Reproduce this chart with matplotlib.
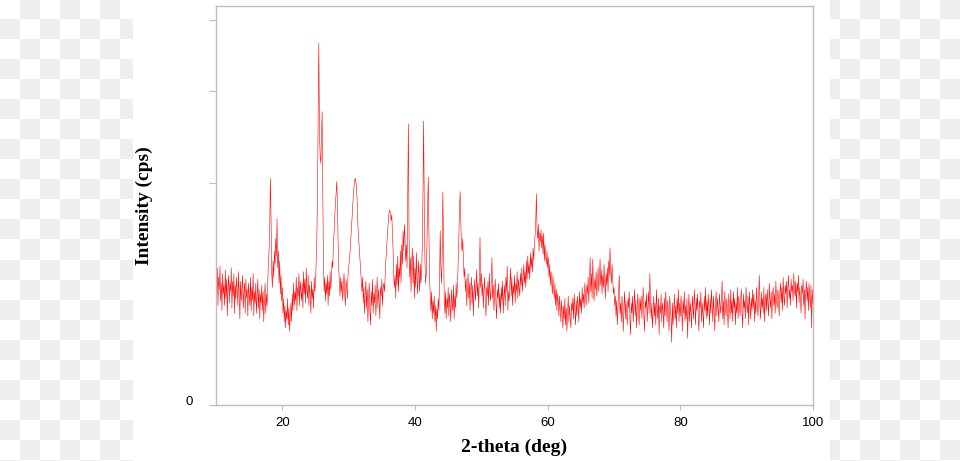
import numpy as np
import matplotlib
matplotlib.use("Agg")
import matplotlib.pyplot as plt
import matplotlib.ticker as mticker
from matplotlib.colors import ListedColormap
from matplotlib.patches import Rectangle
from matplotlib.transforms import ScaledTranslation

# --- data: XRD scan, 2-theta from 10 to 100 deg in 0.1 deg steps ---
# intensity in cps; one line = one degree
START, STEP = 10.0, 0.1
intensity = [
    310, 240, 380, 200, 330, 270, 390, 220, 300, 180,   # 10
    350, 250, 290, 200, 370, 230, 320, 160, 280, 340,   # 11
    210, 300, 260, 380, 190, 310, 240, 350, 170, 290,   # 12
    230, 330, 270, 200, 360, 250, 150, 310, 220, 280,   # 13
    340, 190, 260, 300, 170, 320, 230, 270, 160, 300,   # 14
    250, 200, 330, 180, 280, 220, 350, 160, 260, 210,   # 15
    300, 170, 240, 320, 190, 270, 150, 250, 210, 290,   # 16
    180, 260, 140, 230, 300, 170, 250, 200, 310, 420,   # 17
    480, 650, 1040, 700, 350, 280, 420, 330, 480, 400,  # 18
    560, 450, 700, 380, 480, 300, 420, 250, 340, 220,   # 19
    280, 170, 230, 140, 200, 120, 180, 150, 230, 130,   # 20
    190, 110, 170, 210, 140, 250, 180, 300, 200, 260,   # 21
    220, 330, 180, 280, 240, 350, 200, 310, 260, 220,   # 22
    300, 190, 360, 250, 320, 210, 380, 270, 230, 340,   # 23
    200, 290, 250, 170, 310, 230, 270, 190, 330, 260,   # 24
    300, 420, 560, 900, 1700, 2650, 1500, 1250, 1180, 1450,  # 25
    1740, 900, 420, 260, 330, 220, 300, 250, 340, 200,  # 26
    310, 240, 360, 270, 330, 420, 380, 520, 600, 720,   # 27
    820, 900, 1010, 850, 560, 380, 300, 240, 330, 260,  # 28
    310, 220, 290, 350, 250, 200, 320, 280, 230, 340,   # 29
    380, 420, 470, 540, 620, 700, 800, 880, 960, 1020,  # 30
    1040, 1000, 930, 820, 650, 560, 500, 430, 360, 300,  # 31
    260, 330, 210, 280, 170, 250, 310, 190, 270, 140,   # 32
    230, 300, 180, 130, 260, 200, 320, 170, 250, 210,   # 33
    290, 160, 240, 330, 190, 270, 220, 150, 280, 240,   # 34
    320, 200, 280, 300, 260, 340, 420, 480, 560, 620,   # 35
    720, 750, 770, 740, 690, 730, 600, 480, 330, 280,   # 36
    340, 230, 400, 290, 450, 260, 380, 330, 480, 300,   # 37
    520, 400, 610, 480, 660, 560, 420, 520, 380, 900,   # 38
    1600, 600, 330, 440, 260, 400, 500, 300, 450, 230,  # 39
    380, 280, 470, 320, 250, 420, 350, 260, 400, 300,   # 40
    360, 520, 900, 1630, 800, 420, 300, 350, 520, 800,  # 41
    1050, 600, 330, 240, 180, 260, 150, 220, 170, 240,  # 42
    140, 200, 110, 190, 150, 230, 180, 300, 616, 380,   # 43
    300, 450, 920, 500, 240, 170, 260, 150, 230, 190,   # 44
    280, 160, 250, 200, 140, 270, 210, 180, 290, 150,   # 45
    240, 190, 300, 230, 280, 400, 550, 750, 920, 700,   # 46
    520, 480, 560, 420, 330, 380, 260, 320, 200, 290,   # 47
    350, 230, 300, 180, 270, 330, 210, 290, 160, 250,   # 48
    320, 220, 280, 370, 240, 300, 190, 330, 570, 280,   # 49
    350, 240, 300, 190, 270, 330, 220, 160, 280, 240,   # 50
    310, 200, 350, 260, 220, 300, 440, 230, 290, 180,   # 51
    260, 320, 210, 150, 270, 230, 300, 190, 250, 170,   # 52
    280, 220, 310, 170, 240, 290, 200, 330, 260, 390,   # 53
    180, 260, 220, 300, 380, 240, 330, 200, 290, 250,   # 54
    340, 210, 300, 260, 360, 230, 320, 280, 240, 350,   # 55
    290, 380, 260, 330, 400, 300, 360, 280, 420, 320,   # 56
    450, 350, 400, 320, 470, 380, 440, 360, 500, 420,   # 57
    520, 580, 680, 900, 620, 560, 660, 480, 600, 540,   # 58
    620, 500, 580, 460, 600, 420, 520, 450, 400, 480,   # 59
    380, 440, 330, 400, 290, 360, 310, 250, 340, 270,   # 60
    230, 300, 200, 270, 180, 250, 210, 160, 240, 190,   # 61
    140, 220, 170, 120, 200, 150, 230, 130, 190, 110,   # 62
    170, 240, 140, 200, 160, 120, 210, 180, 230, 150,   # 63
    250, 180, 130, 220, 160, 240, 200, 140, 260, 190,   # 64
    230, 170, 280, 210, 250, 190, 300, 240, 200, 290,   # 65
    250, 330, 210, 300, 440, 260, 350, 230, 430, 280,   # 66
    220, 320, 270, 360, 240, 300, 380, 260, 330, 430,   # 67
    290, 370, 250, 340, 280, 400, 310, 230, 350, 290,   # 68
    380, 260, 420, 340, 500, 360, 300, 400, 330, 250,   # 69
    280, 200, 240, 160, 220, 130, 190, 250, 340, 170,   # 70
    210, 140, 240, 180, 110, 200, 260, 150, 220, 170,   # 71
    130, 230, 190, 260, 150, 100, 210, 170, 240, 140,   # 72
    200, 270, 160, 220, 120, 190, 250, 170, 130, 230,   # 73
    180, 240, 150, 210, 280, 160, 110, 220, 190, 250,   # 74
    140, 200, 260, 170, 350, 230, 150, 210, 120, 180,   # 75
    240, 160, 210, 130, 270, 190, 150, 230, 100, 200,   # 76
    170, 250, 140, 210, 180, 120, 230, 160, 260, 190,   # 77
    140, 220, 170, 110, 240, 190, 150, 80, 210, 130,    # 78
    180, 250, 150, 200, 120, 230, 170, 270, 140, 210,   # 79
    160, 240, 190, 110, 220, 170, 260, 140, 200, 150,   # 80
    230, 90, 180, 250, 140, 210, 170, 120, 240, 190,    # 81
    150, 270, 200, 130, 230, 180, 250, 160, 110, 220,   # 82
    190, 260, 140, 210, 170, 120, 240, 180, 280, 150,   # 83
    220, 160, 250, 190, 130, 230, 170, 270, 200, 140,   # 84
    240, 180, 110, 210, 260, 160, 230, 190, 140, 250,   # 85
    200, 170, 240, 310, 150, 220, 130, 260, 190, 160,   # 86
    230, 180, 120, 250, 200, 150, 270, 170, 220, 140,   # 87
    260, 190, 230, 130, 210, 170, 280, 150, 240, 200,   # 88
    160, 230, 270, 180, 120, 250, 190, 220, 150, 280,   # 89
    210, 170, 240, 130, 260, 200, 150, 230, 180, 270,   # 90
    190, 250, 140, 220, 170, 280, 210, 160, 240, 340,   # 91
    200, 150, 260, 190, 230, 170, 280, 140, 220, 250,   # 92
    180, 270, 210, 160, 300, 230, 190, 260, 150, 240,   # 93
    280, 200, 250, 170, 310, 220, 190, 270, 230, 160,   # 94
    260, 300, 210, 280, 180, 330, 240, 200, 290, 250,   # 95
    310, 190, 280, 340, 230, 270, 200, 320, 260, 290,   # 96
    220, 350, 270, 240, 310, 190, 300, 260, 340, 210,   # 97
    280, 230, 170, 290, 250, 320, 200, 270, 150, 260,   # 98
    310, 220, 280, 180, 300, 240, 190, 290, 120, 270,   # 99
    210,                                                 # 100
]
two_theta = START + STEP * np.arange(len(intensity))

x_ticks = [20, 40, 60, 80, 100]
y_ticks = [0, 1000, 2000, 3000]
y_tick_labels = ["0", "", "", ""]

W, H = 960, 461
fig = plt.figure(figsize=(W / 100, H / 100), dpi=100)

# checkered "transparent" backdrop with white card in the middle
bg = fig.add_axes([0, 0, 1, 1], zorder=-10)
cols, rows = W // 20 + 1, H // 20 + 1
checker = (np.add.outer(np.arange(rows), np.arange(cols)) % 2).astype(float)
bg.imshow(checker, cmap=ListedColormap(["#ffffff", "#eeeeee"]),
          extent=(0, cols * 20, rows * 20, 0), interpolation="nearest", aspect="auto")
bg.add_patch(Rectangle((133, 0), 697, H, facecolor="white", edgecolor="none"))
bg.set_xlim(0, W)
bg.set_ylim(H, 0)
bg.axis("off")

ax = fig.add_axes([216 / W, 1 - 405 / H, (813 - 216) / W, (405 - 6) / H])
ax.set_facecolor("none")
ax.plot(two_theta, intensity, color="#ff0000", linewidth=0.4)

# intensity axis is square-root scaled
ax.set_yscale("function", functions=(lambda v: np.sqrt(np.clip(v, 0, None)), np.square))
ax.set_xlim(10, 100)
ax.set_ylim(0, 3221)
ax.set_xticks(x_ticks)
ax.set_yticks(y_ticks)
ax.set_yticklabels(y_tick_labels)
ax.yaxis.set_minor_locator(mticker.NullLocator())

grey = "#bdbdbd"
for s in ax.spines.values():
    s.set_color(grey)
    s.set_linewidth(1.0)
ax.tick_params(axis="y", direction="out", length=5, width=0.8, color=grey, pad=12, labelsize=9.5)
ax.tick_params(axis="x", direction="out", length=3.5, width=0.8, color=grey, pad=5, labelsize=9.5)
for lab in ax.get_xticklabels() + ax.get_yticklabels():
    lab.set_family("Liberation Sans")
for lab in ax.get_yticklabels():
    lab.set_transform(lab.get_transform() + ScaledTranslation(0, 5 / 100, fig.dpi_scale_trans))

ax.set_xlabel("2-theta (deg)", fontsize=14, fontweight="bold", family="Liberation Serif")
ax.set_ylabel("Intensity (cps)", fontsize=14, fontweight="bold", family="Liberation Serif")
ax.xaxis.set_label_coords(0.5, -0.085)
ax.yaxis.set_label_coords(-0.105, 0.5)

fig.savefig("out.png", dpi=100)
